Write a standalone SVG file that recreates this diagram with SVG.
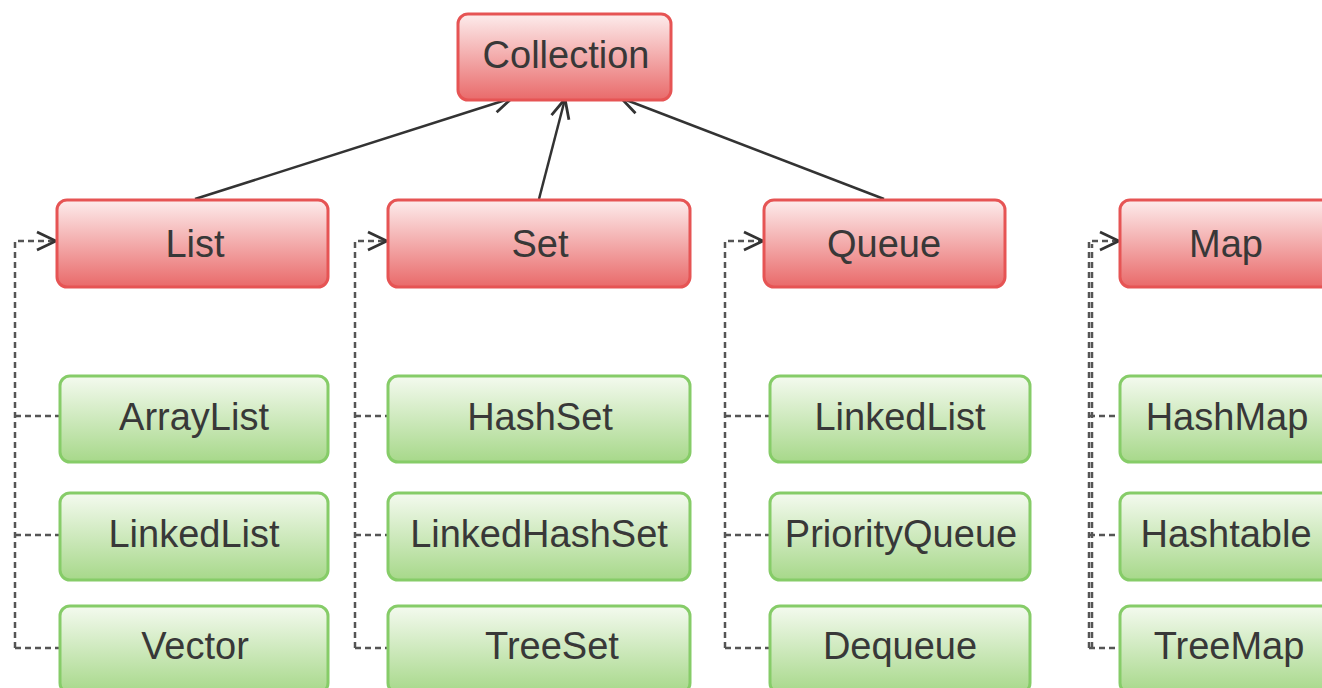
<svg xmlns="http://www.w3.org/2000/svg" width="1322" height="688" viewBox="0 0 1322 688">
<defs>
<linearGradient id="gRed" x1="0" y1="0" x2="0" y2="1">
<stop offset="0" stop-color="#fdecec"/>
<stop offset="1" stop-color="#e96a6a"/>
</linearGradient>
<linearGradient id="gGreen" x1="0" y1="0" x2="0" y2="1">
<stop offset="0" stop-color="#f4faef"/>
<stop offset="1" stop-color="#a7d88a"/>
</linearGradient>
<marker id="open" viewBox="0 0 24 24" refX="22" refY="12" markerWidth="24" markerHeight="24" markerUnits="userSpaceOnUse" orient="auto">
<path d="M3,3 L22,12 L3,21" fill="none" stroke="#333" stroke-width="2.8"/>
</marker>
<style>
.red rect{fill:url(#gRed);stroke:#e65454;stroke-width:3}
.green rect{fill:url(#gGreen);stroke:#86cc68;stroke-width:3}
text{font-family:"Liberation Sans",Arial,sans-serif;font-size:38px;fill:#383838;text-anchor:middle}
.solid{stroke:#333;stroke-width:2.5;fill:none}
.dash{stroke:#555;stroke-width:2.5;fill:none;stroke-dasharray:6 4}
</style>
</defs>
<g id="connectors">
<line class="solid" x1="195" y1="199" x2="512" y2="98" marker-end="url(#open)"/>
<line class="solid" x1="539" y1="199" x2="565" y2="99" marker-end="url(#open)"/>
<line class="solid" x1="884" y1="199" x2="621" y2="98" marker-end="url(#open)"/>
<path class="dash" d="M15,648 L15,241 L56,241" marker-end="url(#open)"/>
<path class="dash" d="M15,416 L60,416 M15,535 L60,535 M15,648 L60,648"/>
<path class="dash" d="M355,648 L355,241 L387,241" marker-end="url(#open)"/>
<path class="dash" d="M355,416 L388,416 M355,535 L388,535 M355,648 L388,648"/>
<path class="dash" d="M725,648 L725,241 L763,241" marker-end="url(#open)"/>
<path class="dash" d="M725,416 L770,416 M725,535 L770,535 M725,648 L770,648"/>
<path class="dash" d="M1089,648 L1089,241 L1119,241" marker-end="url(#open)"/>
<path class="dash" d="M1092,648 L1092,244"/>
<path class="dash" d="M1089,416 L1120,416 M1089,535 L1120,535 M1089,648 L1120,648"/>
</g>
<g id="collection" class="red"><rect x="458" y="14" width="213" height="86" rx="10"/><text x="566" y="68">Collection</text></g>
<g id="list" class="red"><rect x="57" y="200" width="271" height="87" rx="10"/><text x="195" y="257">List</text></g>
<g id="set" class="red"><rect x="388" y="200" width="302" height="87" rx="10"/><text x="540" y="257">Set</text></g>
<g id="queue" class="red"><rect x="764" y="200" width="241" height="87" rx="10"/><text x="884" y="257">Queue</text></g>
<g id="map" class="red"><rect x="1120" y="200" width="215" height="87" rx="10"/><text x="1226" y="257">Map</text></g>
<g id="arraylist" class="green"><rect x="60" y="376" width="268" height="86" rx="10"/><text x="194" y="430">ArrayList</text></g>
<g id="linkedlist" class="green"><rect x="60" y="493" width="268" height="87" rx="10"/><text x="194" y="547">LinkedList</text></g>
<g id="vector" class="green"><rect x="60" y="606" width="268" height="87" rx="10"/><text x="195" y="659">Vector</text></g>
<g id="hashset" class="green"><rect x="388" y="376" width="302" height="86" rx="10"/><text x="540" y="430">HashSet</text></g>
<g id="linkedhashset" class="green"><rect x="388" y="493" width="302" height="87" rx="10"/><text x="539" y="547">LinkedHashSet</text></g>
<g id="treeset" class="green"><rect x="388" y="606" width="302" height="87" rx="10"/><text x="552" y="659">TreeSet</text></g>
<g id="linkedlist2" class="green"><rect x="770" y="376" width="260" height="86" rx="10"/><text x="900" y="430">LinkedList</text></g>
<g id="priorityqueue" class="green"><rect x="770" y="493" width="260" height="87" rx="10"/><text x="901" y="547">PriorityQueue</text></g>
<g id="dequeue" class="green"><rect x="770" y="606" width="260" height="87" rx="10"/><text x="900" y="659">Dequeue</text></g>
<g id="hashmap" class="green"><rect x="1120" y="376" width="215" height="86" rx="10"/><text x="1227" y="430">HashMap</text></g>
<g id="hashtable" class="green"><rect x="1120" y="493" width="215" height="87" rx="10"/><text x="1226" y="547">Hashtable</text></g>
<g id="treemap" class="green"><rect x="1120" y="606" width="215" height="87" rx="10"/><text x="1229" y="659">TreeMap</text></g>
</svg>
